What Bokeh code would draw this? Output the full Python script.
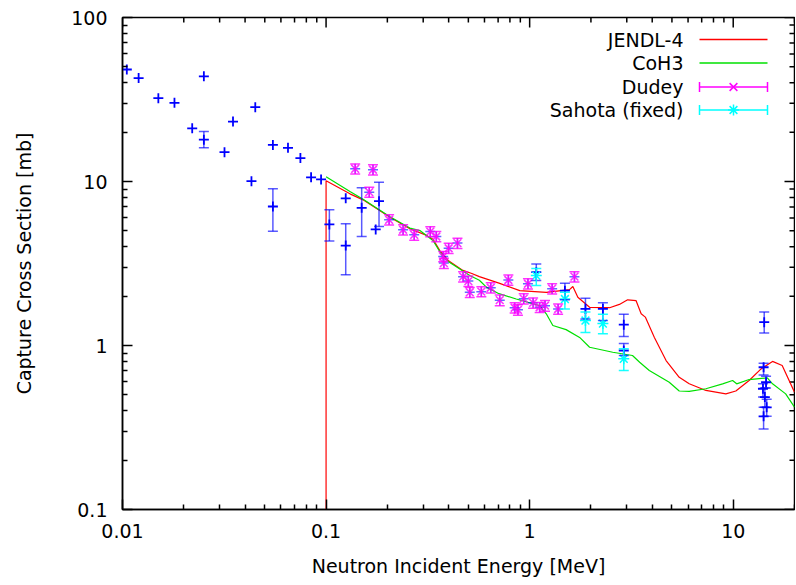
from bokeh.plotting import figure
from bokeh.models import (Range1d, ColumnDataSource, Whisker, TeeHead,
                          FixedTicker, CustomJSTickFormatter, LinearScale)
from bokeh.core.properties import value
from bokeh.embed import file_html
from bokeh.resources import INLINE

# ---------------- data ----------------
jendl_e = [0.1, 0.1, 0.131, 0.152, 0.206, 0.258, 0.312, 0.335, 0.362, 0.398, 0.47, 0.52,
           0.566, 0.707, 0.894, 1.207, 1.57, 1.63, 1.725, 1.97, 2.47, 2.76, 3.03, 3.33,
           3.53, 3.7, 4.1, 4.68, 5.43, 6.08, 7.34, 9.2, 10.3, 11.97, 13.7, 15.6, 17.4, 20.0]
jendl_xs = [0.01, 10.1, 8.41, 7.73, 6.06, 5.15, 4.69, 4.45, 3.79, 3.30, 2.87, 2.75,
            2.63, 2.40, 2.16, 2.11, 2.19, 2.29, 1.97, 1.71, 1.70, 1.78, 1.90, 1.88,
            1.56, 1.49, 1.12, 0.81, 0.64, 0.584, 0.532, 0.507, 0.528, 0.612, 0.72, 0.80, 0.755, 0.519]

coh3_e = [0.1, 0.131, 0.152, 0.206, 0.258, 0.289, 0.335, 0.376, 0.398, 0.47, 0.508, 0.566,
          0.613, 0.707, 0.859, 1.119, 1.207, 1.30, 1.51, 1.76, 1.97, 2.56, 3.2, 3.47, 3.87,
          4.85, 5.43, 6.08, 7.34, 8.87, 9.93, 10.4, 11.97, 14.7, 15.6, 18.1, 20.0]
coh3_xs = [10.7, 8.7, 7.8, 6.1, 5.2, 5.02, 4.37, 3.46, 3.25, 2.85, 2.67, 2.5,
           2.27, 2.07, 1.92, 1.75, 1.56, 1.325, 1.25, 1.12, 0.976, 0.91, 0.869, 0.791, 0.704,
           0.597, 0.528, 0.525, 0.545, 0.584, 0.612, 0.584, 0.62, 0.635, 0.584, 0.507, 0.421]

dudey_e = [0.139, 0.163, 0.170, 0.204, 0.239, 0.271, 0.325, 0.348, 0.376, 0.379, 0.400,
           0.442, 0.471, 0.500, 0.508, 0.579, 0.644, 0.713, 0.786, 0.844, 0.876, 0.935,
           0.981, 1.04, 1.12, 1.19, 1.29, 1.38, 1.66]
dudey_xs = [11.95, 8.61, 11.8, 5.84, 5.08, 4.73, 4.95, 4.62, 3.49, 3.18, 3.92,
            4.21, 2.63, 2.47, 2.11, 2.13, 2.25, 1.89, 2.51, 1.70, 1.65, 1.93,
            2.38, 1.82, 1.71, 1.75, 2.22, 1.67, 2.63]
dudey_err = [0.85, 0.60, 0.85, 0.42, 0.36, 0.34, 0.35, 0.33, 0.25, 0.23, 0.28,
             0.30, 0.19, 0.18, 0.15, 0.15, 0.16, 0.14, 0.18, 0.12, 0.12, 0.14,
             0.17, 0.13, 0.12, 0.13, 0.16, 0.12, 0.19]

sahota_e = [1.078, 1.49, 1.88, 2.29, 2.90]
sahota_xs = [2.67, 1.92, 1.42, 1.36, 0.83]
sahota_lo = [2.32, 1.67, 1.20, 1.18, 0.704]
sahota_hi = [2.95, 2.11, 1.60, 1.55, 0.955]

exfor_e = [0.0105, 0.0120, 0.0150, 0.0180, 0.0220, 0.0251, 0.0251, 0.0317, 0.0349, 0.0430,
           0.0449, 0.0548, 0.0548, 0.0650, 0.0748, 0.0844, 0.0945, 0.1038, 0.1249, 0.1249,
           0.1496, 0.1753, 0.182, 1.078, 1.49, 1.88, 2.29, 2.90, 2.90,
           14.2, 14.1, 14.5, 14.0, 14.3, 14.6, 14.1]
exfor_xs = [48.2, 42.7, 32.2, 30.2, 21.1, 43.8, 18.0, 15.1, 23.2, 10.05,
            28.4, 16.7, 7.04, 16.05, 13.9, 10.6, 10.3, 5.47, 7.9, 4.07,
            6.91, 5.10, 7.59, 2.80, 2.16, 1.67, 1.67, 1.34, 0.932,
            1.387, 0.737, 0.597, 0.545, 0.485, 0.42, 0.37]
exfor_lo = [None, None, None, None, None, None, 16.05, None, None, None,
            None, None, 4.98, None, None, None, None, 4.33, None, 2.70,
            4.62, None, 5.32, 2.49, 1.90, 1.45, 1.42, 1.135, 0.869,
            1.19, 0.66, 0.55, 0.485, 0.42, 0.37, 0.31]
exfor_hi = [None, None, None, None, None, None, 20.2, None, None, None,
            None, None, 9.03, None, None, None, None, 6.72, None, 5.52,
            9.15, None, 9.90, 3.14, 2.40, 1.94, 1.82, 1.55, 1.03,
            1.60, 0.78, 0.65, 0.584, 0.55, 0.47, 0.42]

x_ticks = [0.01, 0.1, 1, 10]
y_ticks = [0.1, 1, 10, 100]
legend_labels = ["JENDL-4", "CoH3", "Dudey", "Sahota (fixed)"]

# ---------------- figure ----------------
FW, FH = 672, 492
FONT = "DejaVu Sans"
FSIZE = "19px"
p = figure(frame_width=FW, frame_height=FH, x_axis_type="log", y_axis_type="log",
           x_range=Range1d(0.01, 20), y_range=Range1d(0.1, 100),
           output_backend="svg", toolbar_location=None,
           min_border_left=122, min_border_right=1, min_border_top=17, min_border_bottom=75)
p.xgrid.visible = False
p.ygrid.visible = False
p.background_fill_color = "white"
p.border_fill_color = "white"
p.outline_line_color = "black"
p.outline_line_width = 1.5

x_minor = [m * 10.0 ** k for k in range(-2, 2) for m in range(2, 10) if m * 10.0 ** k <= 20]
y_minor = [m * 10.0 ** k for k in range(-1, 2) for m in range(2, 10)]
fmt = CustomJSTickFormatter(code="return Number(tick.toPrecision(3)).toString();")

for ax, ticks, minor in ((p.xaxis[0], x_ticks, x_minor), (p.yaxis[0], y_ticks, y_minor)):
    ax.ticker = FixedTicker(ticks=ticks, minor_ticks=minor)
    ax.formatter = fmt
    ax.axis_line_color = "black"
    ax.axis_line_width = 1.5
    ax.major_tick_in = 10
    ax.major_tick_out = 0
    ax.minor_tick_in = 5
    ax.minor_tick_out = 0
    ax.major_tick_line_width = 1.5
    ax.minor_tick_line_width = 1.5
    ax.major_tick_line_color = "black"
    ax.minor_tick_line_color = "black"
    ax.major_label_text_font = FONT
    ax.major_label_text_font_size = FSIZE
    ax.major_label_text_color = "black"
    ax.axis_label_text_font = FONT
    ax.axis_label_text_font_size = FSIZE
    ax.axis_label_text_font_style = "normal"
    ax.axis_label_text_color = "black"

p.xaxis[0].axis_label = "Neutron Incident Energy [MeV]"
p.yaxis[0].axis_label = "Capture Cross Section [mb]"
p.xaxis[0].major_label_standoff = 14
p.xaxis[0].axis_label_standoff = 14
p.yaxis[0].major_label_standoff = 15
p.yaxis[0].axis_label_standoff = 33

# pixel-space ranges for mirrored ticks and the gnuplot-style key
p.extra_x_ranges = {"px": Range1d(0, FW)}
p.extra_y_ranges = {"py": Range1d(0, FH)}
p.extra_x_scales = {"px": LinearScale()}
p.extra_y_scales = {"py": LinearScale()}

# mirrored ticks on top and right
p.segment(x0=x_ticks, y0=[FH] * len(x_ticks), x1=x_ticks, y1=[FH - 10] * len(x_ticks),
          y_range_name="py", line_color="black", line_width=1.5)
p.segment(x0=x_minor, y0=[FH] * len(x_minor), x1=x_minor, y1=[FH - 5] * len(x_minor),
          y_range_name="py", line_color="black", line_width=1.5)
p.segment(x0=[FW] * len(y_ticks), y0=y_ticks, x1=[FW - 10] * len(y_ticks), y1=y_ticks,
          x_range_name="px", line_color="black", line_width=1.5)
p.segment(x0=[FW] * len(y_minor), y0=y_minor, x1=[FW - 5] * len(y_minor), y1=y_minor,
          x_range_name="px", line_color="black", line_width=1.5)

# ---------------- curves ----------------
p.line(jendl_e, jendl_xs, line_color="#ff0000", line_width=1.2)
p.line(coh3_e, coh3_xs, line_color="#00e000", line_width=1.2)


def tee(color, alpha):
    return TeeHead(size=10, line_color=color, line_width=1.5, line_alpha=alpha)


def whisker(src, color, alpha):
    return Whisker(source=src, base="x", lower="lo", upper="hi", dimension="height",
                   line_color=color, line_alpha=alpha, line_width=1.5,
                   upper_head=tee(color, alpha), lower_head=tee(color, alpha), level="glyph")


# ---------------- other experimental data (blue) ----------------
idx = [i for i, v in enumerate(exfor_lo) if v is not None]
blue_src = ColumnDataSource(dict(x=[exfor_e[i] for i in idx],
                                 lo=[exfor_lo[i] for i in idx],
                                 hi=[exfor_hi[i] for i in idx]))
p.add_layout(whisker(blue_src, "#0000ff", 0.65))
p.scatter(exfor_e, exfor_xs, marker="cross", size=10, line_color="#0000ff", line_width=1.8)
p.scatter(dudey_e, dudey_xs, marker="cross", size=10, line_color="#0000ff", line_width=1.5,
          line_alpha=0.6)

# ---------------- Dudey ----------------
dud_src = ColumnDataSource(dict(x=dudey_e,
                                lo=[v - e for v, e in zip(dudey_xs, dudey_err)],
                                hi=[v + e for v, e in zip(dudey_xs, dudey_err)]))
p.add_layout(whisker(dud_src, "#ff00ff", 0.8))
p.scatter(dudey_e, dudey_xs, marker="x", size=11, line_color="#ff00ff", line_width=1.6,
          line_alpha=0.8)

# ---------------- Sahota (fixed) ----------------
sah_src = ColumnDataSource(dict(x=sahota_e, lo=sahota_lo, hi=sahota_hi))
p.add_layout(whisker(sah_src, "#00ffff", 0.9))
p.scatter(sahota_e, sahota_xs, marker="asterisk", size=11, line_color="#00ffff", line_width=1.5)

# ---------------- key (gnuplot style: text, then sample) ----------------
row_y = [FH - 22, FH - 45.5, FH - 69.5, FH - 92.5]
leg_colors = ["#ff0000", "#00e000", "#ff00ff", "#00ffff"]
txt_x = FW - 111
s0, s1 = FW - 95, FW - 27
smid = (s0 + s1) / 2

p.text(x=[txt_x] * 4, y=row_y, text=legend_labels, x_range_name="px", y_range_name="py",
       text_align="right", text_baseline="middle", text_font=value(FONT),
       text_font_size=value(FSIZE), text_color="black")
for yy, cc in zip(row_y, leg_colors):
    p.segment(x0=[s0], y0=[yy], x1=[s1], y1=[yy], line_color=cc, line_width=1.3,
              x_range_name="px", y_range_name="py")
for yy, cc in zip(row_y[2:], leg_colors[2:]):
    p.segment(x0=[s0, s1], y0=[yy - 5, yy - 5], x1=[s0, s1], y1=[yy + 5, yy + 5],
              line_color=cc, line_width=1.5, x_range_name="px", y_range_name="py")
p.scatter([smid], [row_y[2]], marker="x", size=11, line_color="#ff00ff", line_width=1.5,
          x_range_name="px", y_range_name="py")
p.scatter([smid], [row_y[3]], marker="asterisk", size=11, line_color="#00ffff", line_width=1.5,
          x_range_name="px", y_range_name="py")

open("out.html", "w").write(file_html(p, INLINE))
